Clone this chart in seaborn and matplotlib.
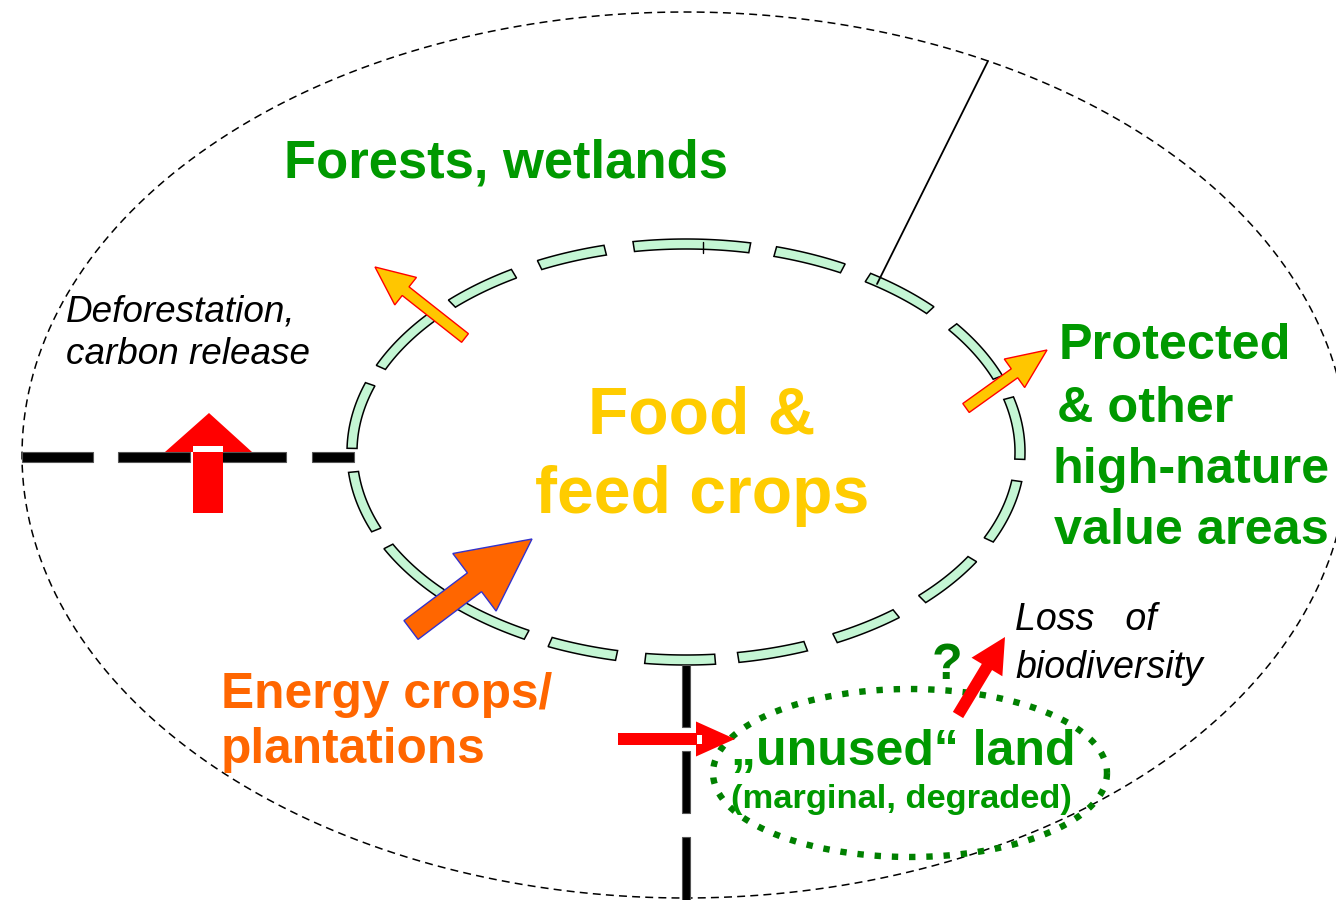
import numpy as np
import matplotlib.pyplot as plt
import matplotlib.patches as mpatches
import seaborn as sns

# labels of the diagram
forest_label = "Forests, wetlands"
food_label = ["Food &", "feed crops"]
protected_label = ["Protected", "& other", "high-nature", "value areas"]
energy_label = ["Energy crops/", "plantations"]
unused_label = ["\u201eunused\u201c land", "(marginal, degraded)"]
defor_label = ["Deforestation,", "carbon release"]
loss_label = ["Loss   of", "biodiversity"]

# colours
green = "#009900"
dot_green = "#008000"
yellow = "#FFCC00"
orange = "#FF6600"
red = "#FF0000"
dash_fill = "#C4F6D4"

# angular extent (deg) of the dashes of the inner ring
ring_dashes = [(79, 99), (62, 74.5), (43, 57), (21, 37), (-2, 15), (-25, -8),
               (-45, -31), (-63.5, -51), (-81, -69), (-97, -85), (-114, -102),
               (-132.5, -118.5), (-153, -137), (-174.5, -158), (161, 179),
               (139, 156), (121, 134.5), (104, 116)]

sns.set_theme(style="white")
plt.rcParams['font.family'] = ['Liberation Sans', 'DejaVu Sans']

fig = plt.figure(figsize=(13.36, 9), dpi=100)
ax = fig.add_axes([0, 0, 1, 1])
ax.set_xlim(0, 1336)
ax.set_ylim(900, 0)
ax.set_aspect('equal')
ax.axis('off')

# outer dashed ellipse
t = np.linspace(0, 2 * np.pi, 600)
sns.lineplot(x=685 + 663 * np.cos(t), y=455 + 443 * np.sin(t), sort=False,
             estimator=None, color='black', lw=1.1, ax=ax, zorder=1)
ax.lines[-1].set_linestyle((0, (5.2, 3.4)))

# inner ring of light green dashes
cx, cy, a, b, w = 686, 452, 334, 208, 5.0
for t0, t1 in ring_dashes:
    tt = np.radians(np.linspace(t0, t1, 30))
    outer = np.c_[cx + (a + w) * np.cos(tt), cy - (b + w) * np.sin(tt)]
    inner = np.c_[cx + (a - w) * np.cos(tt), cy - (b - w) * np.sin(tt)][::-1]
    ax.add_patch(mpatches.Polygon(np.vstack([outer, inner]), closed=True,
                                  fc=dash_fill, ec='black', lw=1.1, zorder=3))
ax.plot([703, 703], [242, 253], color='black', lw=1, zorder=4)

# thin pointer line
ax.plot([988, 877], [61, 284], color='black', lw=1.3, zorder=4)

# red up arrow (deforestation), head drawn under the black line
ax.add_patch(mpatches.Polygon([[165, 452], [252, 452], [209, 413]],
                              closed=True, fc=red, ec='none', zorder=4))
for x0, x1 in [(22, 93), (118, 190), (215, 286), (312, 354)]:
    ax.add_patch(mpatches.Rectangle((x0, 452), x1 - x0, 10, fc='black',
                                    ec='#555555', lw=0.8, zorder=5))
ax.add_patch(mpatches.Rectangle((193, 452), 30, 61, fc=red, ec='none', zorder=6))
ax.add_patch(mpatches.Rectangle((193, 446), 30, 6, fc='white', ec='none', zorder=6))

# vertical black dashed line
for y0, y1 in [(665, 727), (751, 813), (837, 905)]:
    ax.add_patch(mpatches.Rectangle((682, y0), 8, y1 - y0, fc='black',
                                    ec='#555555', lw=0.8, zorder=5))


def arrow(tail, tip, shaft, head, head_len, fc, ec, lw=1.0):
    dx, dy = tip[0] - tail[0], tip[1] - tail[1]
    ax.add_patch(mpatches.FancyArrow(tail[0], tail[1], dx, dy, width=shaft,
                                     head_width=head, head_length=head_len,
                                     length_includes_head=True, fc=fc, ec=ec,
                                     lw=lw, zorder=7))


arrow((465, 338), (375, 267), 11, 35, 39, '#FFC600', red)
arrow((966, 408), (1047, 350), 11, 35, 40, '#FFC600', red)
arrow((411, 630), (532, 539), 23.5, 72, 72, orange, '#3333CC')
arrow((958, 715), (1005, 637), 12, 36, 35, red, 'none', 0)
arrow((618, 739), (735, 739), 12, 35, 39, red, 'none', 0)
ax.add_patch(mpatches.Rectangle((697, 735), 5, 9, fc='white', ec='none', zorder=8))

# dotted ellipse round the unused land
tt = np.linspace(0, 2 * np.pi, 500)
ax.plot(910 + 197 * np.cos(tt), 773 + 84 * np.sin(tt), color=dot_green, lw=4.6,
        ls=(0, (1.0, 1.7)), solid_capstyle='butt', dash_capstyle='butt', zorder=6)

# texts
bold = dict(fontweight='bold', va='baseline', ha='left', zorder=9)
ax.text(284, 177, forest_label, color=green, fontsize=37.9, **bold)
for s, y in zip(food_label, [433, 513]):
    ax.text(702, y, s, color=yellow, fontsize=47.5, fontweight='bold',
            va='baseline', ha='center', zorder=9)
for s, x, y in zip(protected_label, [1059, 1057, 1053, 1054], [359, 422, 483, 544]):
    ax.text(x, y, s, color=green, fontsize=36.3, **bold)
for s, y in zip(energy_label, [708, 763]):
    ax.text(221, y, s, color=orange, fontsize=35.7, **bold)
ax.text(731, 765, unused_label[0], color=green, fontsize=36, **bold)
ax.text(731, 808, unused_label[1], color=green, fontsize=24.8, **bold)
ax.text(947, 679, "?", color=dot_green, fontsize=36, fontweight='bold',
        va='baseline', ha='center', zorder=9)
ital = dict(fontstyle='italic', va='baseline', ha='left', color='black', zorder=9)
for s, y in zip(defor_label, [321, 364]):
    ax.text(66, y, s, fontsize=26.6, **ital)
for s, y in zip(loss_label, [630, 678]):
    ax.text(1015, y, s, fontsize=27, **ital)

fig.savefig("out.png", dpi=100)
